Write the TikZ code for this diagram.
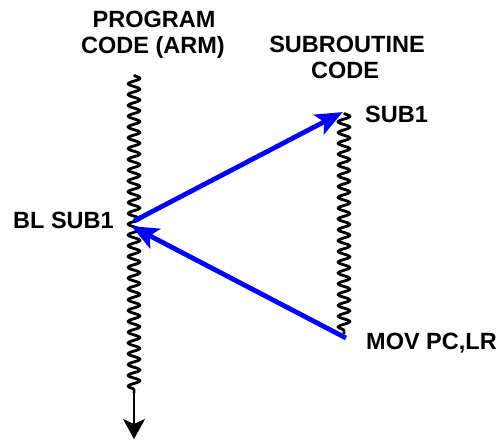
\documentclass[tikz,border=0pt]{standalone}
\usepackage{fontspec}
\setmainfont{Liberation Sans}
\usetikzlibrary{decorations.pathmorphing,arrows.meta}
\tikzset{
  lbl/.style={inner sep=0pt, font=\fontsize{23.5}{28}\selectfont\bfseries},
  wiggle/.style={line width=2.8pt, line join=round, decorate,
    decoration={snake, segment length=10.8pt, amplitude=6pt}},
  stem/.style={line width=1.8pt, -{Stealth[length=20pt, width=22pt, inset=5pt]}},
  callarrow/.style={draw={rgb,255:red,0;green,0;blue,255}, line width=4.8pt,
    -{Stealth[length=27pt, width=22pt, inset=6pt]}, shorten >=-2pt}
}
\begin{document}
\begin{tikzpicture}[x=1pt,y=-1pt]
\useasboundingbox (0,0) rectangle (500,440);
% text
\node[lbl, anchor=base] (t1) at (154,27) {PROGRAM};
\node[lbl, anchor=base] (t2) at (153,53) {CODE (ARM)};
\node[lbl, anchor=base] (t3) at (347,52) {SUBROUTINE};
\node[lbl, anchor=base] (t4) at (345,78) {CODE};
\node[lbl, anchor=base west] (sub1) at (365,122) {SUB1};
\node[lbl, anchor=base west] (bl) at (13,228) {BL SUB1};
\node[lbl, anchor=base west] (mov) at (366,349) {MOV PC,LR};
% code lines
\coordinate (ltop) at (134,75);
\coordinate (lbot) at (134,393);
\coordinate (ltip) at (134,439);
\coordinate (rtop) at (344,113);
\coordinate (rbot) at (344,334);
\draw[wiggle] (ltop) -- (lbot);
\draw[stem] (lbot) -- (ltip);
\draw[wiggle] (rtop) -- (rbot);
% call and return
\coordinate (callpt) at (134,221);
\coordinate (subpt) at (341,113);
\coordinate (retpt) at (346,338);
\coordinate (backpt) at (133,227);
\draw[callarrow] (callpt) -- (subpt);
\draw[callarrow] (retpt) -- (backpt);
\end{tikzpicture}
\end{document}
